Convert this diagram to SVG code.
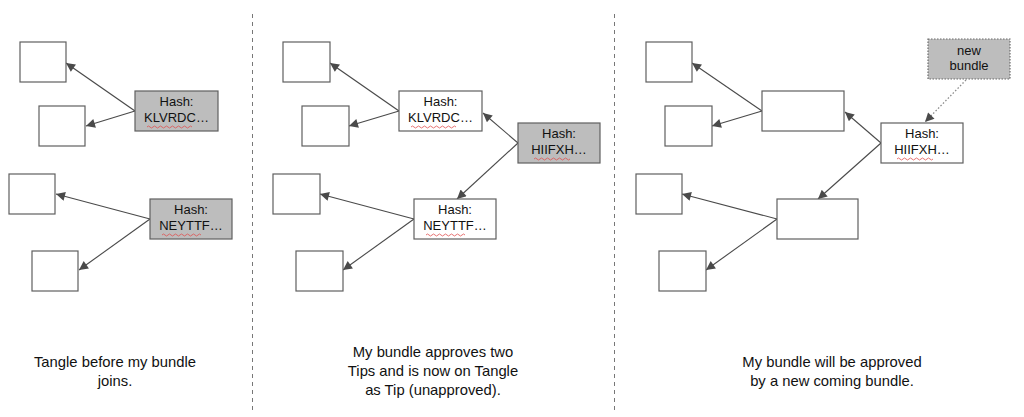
<svg xmlns="http://www.w3.org/2000/svg" width="1024" height="417" viewBox="0 0 1024 417">
<style>
.box{fill:#fff;stroke:#5f5f5f;stroke-width:1.2}
.gray{fill:#bdbdbd;stroke:#5f5f5f;stroke-width:1.2}
.newb{fill:#bdbdbd;stroke:#6a6a6a;stroke-width:1.2;stroke-dasharray:1.5 1.5}
.t{font-family:"Liberation Sans",Arial,sans-serif;font-size:13px;fill:#111;text-anchor:middle}
.cap{font-family:"Liberation Sans",Arial,sans-serif;font-size:14.8px;fill:#111;text-anchor:middle}
.edge{stroke:#4a4a4a;stroke-width:1.1;fill:none;marker-end:url(#ah)}
.dot{stroke:#8a8a8a;stroke-width:1.3;fill:none;stroke-dasharray:1.5 2;marker-end:url(#ah)}
.sep{stroke:#777;stroke-width:1;stroke-dasharray:4 4}
.sq{stroke:#e05050;stroke-width:0.8;fill:none}
</style>
<defs>
<marker id="ah" viewBox="0 0 10 10" refX="10" refY="5" markerWidth="12" markerHeight="9" markerUnits="userSpaceOnUse" orient="auto">
<path d="M0,0 L10,5 L0,10 z" fill="#4a4a4a"/>
</marker>
</defs>
<g id="separators">
<line class="sep" x1="252.5" y1="14" x2="252.5" y2="410"/>
<line class="sep" x1="614.5" y1="14" x2="614.5" y2="410"/>
</g>
<g id="connectors">
<line class="edge" x1="135" y1="111" x2="66" y2="63"/>
<line class="edge" x1="135" y1="111" x2="86" y2="126"/>
<line class="edge" x1="150" y1="219" x2="56" y2="194"/>
<line class="edge" x1="150" y1="219" x2="79" y2="270"/>
<line class="edge" x1="399" y1="111" x2="330" y2="63"/>
<line class="edge" x1="399" y1="111" x2="349" y2="126"/>
<line class="edge" x1="518" y1="143" x2="483" y2="113"/>
<line class="edge" x1="518" y1="143" x2="457" y2="199"/>
<line class="edge" x1="414" y1="219" x2="320" y2="194"/>
<line class="edge" x1="414" y1="219" x2="343" y2="270"/>
<line class="edge" x1="762" y1="111" x2="692" y2="63"/>
<line class="edge" x1="762" y1="111" x2="712" y2="126"/>
<line class="edge" x1="881" y1="143" x2="845" y2="112"/>
<line class="edge" x1="881" y1="143" x2="818" y2="199"/>
<line class="edge" x1="777" y1="219" x2="682" y2="194"/>
<line class="edge" x1="777" y1="219" x2="706" y2="270"/>
<line class="dot" x1="966" y1="80" x2="925" y2="122"/>
</g>
<g id="p1-a"><rect class="box" x="20" y="42" width="46" height="40"/></g>
<g id="p1-b"><rect class="box" x="39" y="106" width="46" height="40"/></g>
<g id="p1-klvrdc"><rect class="gray" x="135" y="91" width="83" height="40"/>
<text class="t" x="176.5" y="106">Hash:</text><text class="t" x="176.5" y="122">KLVRDC…</text>
<path class="sq" d="M147,127 q1.5,-2 3,0 t3,0 t3,0 t3,0 t3,0 t3,0 t3,0 t3,0 t3,0 t3,0 t3,0 t3,0 t3,0 t3,0 t3,0"/></g>
<g id="p1-c"><rect class="box" x="9" y="174" width="46" height="40"/></g>
<g id="p1-neyttf"><rect class="gray" x="150" y="199" width="82" height="40"/>
<text class="t" x="191" y="214">Hash:</text><text class="t" x="191" y="230">NEYTTF…</text>
<path class="sq" d="M162,235 q1.5,-2 3,0 t3,0 t3,0 t3,0 t3,0 t3,0 t3,0 t3,0 t3,0 t3,0 t3,0 t3,0 t3,0"/></g>
<g id="p1-d"><rect class="box" x="32" y="251" width="46" height="40"/></g>
<g id="p1-caption"><text class="cap" x="115" y="367">Tangle before my bundle</text><text class="cap" x="115" y="386">joins.</text></g>

<g id="p2-a"><rect class="box" x="283" y="42" width="47" height="40"/></g>
<g id="p2-b"><rect class="box" x="302" y="106" width="47" height="40"/></g>
<g id="p2-klvrdc"><rect class="box" x="399" y="91" width="83" height="40"/>
<text class="t" x="440.5" y="106">Hash:</text><text class="t" x="440.5" y="122">KLVRDC…</text>
<path class="sq" d="M411,127 q1.5,-2 3,0 t3,0 t3,0 t3,0 t3,0 t3,0 t3,0 t3,0 t3,0 t3,0 t3,0 t3,0 t3,0 t3,0 t3,0"/></g>
<g id="p2-hiifxh"><rect class="gray" x="518" y="123" width="82" height="40"/>
<text class="t" x="559" y="138">Hash:</text><text class="t" x="559" y="154">HIIFXH…</text>
<path class="sq" d="M534,159 q1.5,-2 3,0 t3,0 t3,0 t3,0 t3,0 t3,0 t3,0 t3,0 t3,0 t3,0 t3,0 t3,0"/></g>
<g id="p2-c"><rect class="box" x="273" y="174" width="47" height="40"/></g>
<g id="p2-neyttf"><rect class="box" x="414" y="199" width="82" height="40"/>
<text class="t" x="455" y="214">Hash:</text><text class="t" x="455" y="230">NEYTTF…</text>
<path class="sq" d="M426,235 q1.5,-2 3,0 t3,0 t3,0 t3,0 t3,0 t3,0 t3,0 t3,0 t3,0 t3,0 t3,0 t3,0 t3,0"/></g>
<g id="p2-d"><rect class="box" x="296" y="251" width="47" height="40"/></g>
<g id="p2-caption"><text class="cap" x="433" y="357">My bundle approves two</text><text class="cap" x="433" y="376">Tips and is now on Tangle</text><text class="cap" x="433" y="395">as Tip (unapproved).</text></g>

<g id="p3-a"><rect class="box" x="646" y="42" width="46" height="40"/></g>
<g id="p3-b"><rect class="box" x="665" y="106" width="47" height="40"/></g>
<g id="p3-mid"><rect class="box" x="762" y="91" width="82" height="40"/></g>
<g id="p3-hiifxh"><rect class="box" x="881" y="123" width="82" height="40"/>
<text class="t" x="922" y="138">Hash:</text><text class="t" x="922" y="154">HIIFXH…</text>
<path class="sq" d="M897,159 q1.5,-2 3,0 t3,0 t3,0 t3,0 t3,0 t3,0 t3,0 t3,0 t3,0 t3,0 t3,0 t3,0"/></g>
<g id="p3-new"><rect class="newb" x="928" y="39" width="82" height="40"/>
<text class="t" x="969" y="55">new</text><text class="t" x="969" y="70">bundle</text></g>
<g id="p3-c"><rect class="box" x="636" y="174" width="46" height="40"/></g>
<g id="p3-low"><rect class="box" x="777" y="199" width="81" height="40"/></g>
<g id="p3-d"><rect class="box" x="659" y="251" width="47" height="40"/></g>
<g id="p3-caption"><text class="cap" x="832" y="367">My bundle will be approved</text><text class="cap" x="832" y="386">by a new coming bundle.</text></g>
</svg>
